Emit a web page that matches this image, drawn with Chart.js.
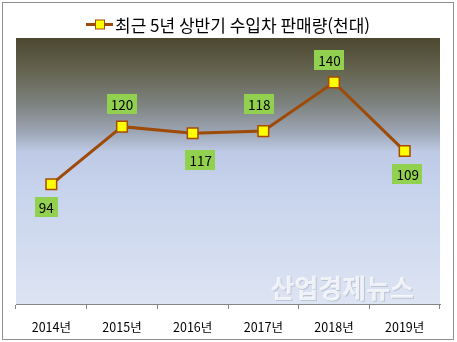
<!DOCTYPE html>
<html lang="ko">
<head>
<meta charset="utf-8">
<title>최근 5년 상반기 수입차 판매량</title>
<script src="https://cdn.jsdelivr.net/npm/chart.js@4"></script>
<style>
  html, body { margin: 0; padding: 0; background: #ffffff; }
  #wrap { width: 457px; height: 342px; position: relative; }
</style>
</head>
<body>
<div id="wrap"><canvas id="chart" width="457" height="342"></canvas></div>
<script>
// Half-year imported car sales, thousands of units
const categories = ['2014년', '2015년', '2016년', '2017년', '2018년', '2019년'];
const salesValues = [94, 120, 117, 118, 140, 109];
const seriesLabel = '최근 5년 상반기 수입차 판매량(천대)';
const watermarkText = '산업경제뉴스';

const FONT = '"Noto Sans CJK KR", "Noto Sans", sans-serif';
const LINE_COLOR = '#9e4a08';
const MARKER_FILL = '#ffff00';
const MARKER_EDGE = '#a84a00';

// Frame, white page and the gradient plot area
const frameAndBackdrop = {
  id: 'frameAndBackdrop',
  beforeDraw(chart) {
    const { ctx, width, height, chartArea: a } = chart;
    ctx.save();
    ctx.fillStyle = '#ffffff';
    ctx.fillRect(0, 0, width, height);
    ctx.strokeStyle = '#8f8f8f';
    ctx.lineWidth = 1;
    ctx.strokeRect(2.5, 2.5, 451, 337);
    const g = ctx.createLinearGradient(0, a.top, 0, a.bottom);
    g.addColorStop(0.00, '#4c4830');
    g.addColorStop(0.12, '#64634f');
    g.addColorStop(0.25, '#7e8380');
    g.addColorStop(0.35, '#9ba4b3');
    g.addColorStop(0.43, '#bfcbe6');
    g.addColorStop(0.60, '#c9d5ed');
    g.addColorStop(1.00, '#dde4f3');
    ctx.fillStyle = g;
    ctx.fillRect(a.left, a.top, a.right - a.left, a.bottom - a.top);
    ctx.restore();
  }
};

// Faint site name in the lower right of the plot
const watermark = {
  id: 'watermark',
  beforeDatasetsDraw(chart) {
    const { ctx, chartArea: a } = chart;
    ctx.save();
    ctx.font = 'bold 26px ' + FONT;
    ctx.textAlign = 'right';
    ctx.textBaseline = 'alphabetic';
    const x = a.right - 26, y = a.bottom - 6;
    ctx.fillStyle = 'rgba(150,160,180,0.45)';
    ctx.fillText(watermarkText, x + 1, y + 1);
    ctx.fillStyle = 'rgba(255,255,255,0.75)';
    ctx.fillText(watermarkText, x, y);
    ctx.restore();
  }
};

// Series name with its line-and-marker key, centred over the plot
const seriesHeader = {
  id: 'seriesHeader',
  afterDraw(chart) {
    const { ctx, width } = chart;
    const label = chart.data.datasets[0].label;
    ctx.save();
    ctx.font = '17px ' + FONT;
    const tw = ctx.measureText(label).width;
    const keyW = 27, gap = 2;
    const total = keyW + gap + tw;
    const x0 = Math.round((width - total) / 2);
    const cy = 24.5;
    ctx.strokeStyle = LINE_COLOR;
    ctx.lineWidth = 3;
    ctx.beginPath();
    ctx.moveTo(x0, cy);
    ctx.lineTo(x0 + keyW, cy);
    ctx.stroke();
    ctx.fillStyle = MARKER_FILL;
    ctx.strokeStyle = MARKER_EDGE;
    ctx.lineWidth = 1;
    ctx.fillRect(x0 + 9.5, cy - 4.5, 9, 9);
    ctx.strokeRect(x0 + 9.5, cy - 4.5, 9, 9);
    ctx.fillStyle = '#000000';
    ctx.textBaseline = 'middle';
    ctx.textAlign = 'left';
    ctx.fillText(label, x0 + keyW + gap, cy + 1);
    ctx.restore();
  }
};

// Green value boxes next to each point
const valueBoxes = {
  id: 'valueBoxes',
  afterDatasetsDraw(chart, args, opts) {
    const { ctx } = chart;
    const meta = chart.getDatasetMeta(0);
    const values = chart.data.datasets[0].data;
    ctx.save();
    ctx.font = '13.5px ' + FONT;
    ctx.textAlign = 'center';
    ctx.textBaseline = 'middle';
    meta.data.forEach((pt, i) => {
      const text = String(values[i]);
      const w = ctx.measureText(text).width + 8;
      const h = 20;
      const [dx, dy] = opts.offsets[i];
      const cx = pt.x + dx, cy = pt.y + dy;
      ctx.fillStyle = '#92d050';
      ctx.fillRect(Math.round(cx - w / 2), Math.round(cy - h / 2), Math.round(w), h);
      ctx.fillStyle = '#000000';
      ctx.fillText(text, cx, cy + 1);
    });
    ctx.restore();
  }
};

new Chart(document.getElementById('chart'), {
  type: 'line',
  data: {
    labels: categories,
    datasets: [{
      label: seriesLabel,
      data: salesValues,
      borderColor: LINE_COLOR,
      borderWidth: 3,
      tension: 0,
      fill: false,
      pointStyle: 'rect',
      pointRadius: 7.5,
      pointHoverRadius: 7.5,
      pointBackgroundColor: MARKER_FILL,
      pointBorderColor: MARKER_EDGE,
      pointBorderWidth: 1.5
    }]
  },
  options: {
    responsive: false,
    animation: false,
    devicePixelRatio: 1,
    layout: { padding: { left: 16, right: 17, top: 38, bottom: -4 } },
    scales: {
      x: {
        offset: true,
        grid: {
          offset: true,
          drawOnChartArea: false,
          drawTicks: true,
          tickLength: 5,
          color: '#868686'
        },
        border: { display: true, color: '#868686', width: 1 },
        ticks: {
          padding: 11,
          color: '#000000',
          font: { family: FONT, size: 12.5 },
          maxRotation: 0
        }
      },
      y: {
        display: false,
        min: 40,
        max: 160
      }
    },
    plugins: {
      legend: { display: false },
      title: { display: false },
      tooltip: { enabled: false },
      valueBoxes: {
        offsets: [[-5, 23], [0, -22.5], [8, 27], [-4, -27.5], [-4.5, -22.5], [3, 22.5]]
      }
    }
  },
  plugins: [frameAndBackdrop, watermark, valueBoxes, seriesHeader]
});
</script>
</body>
</html>
